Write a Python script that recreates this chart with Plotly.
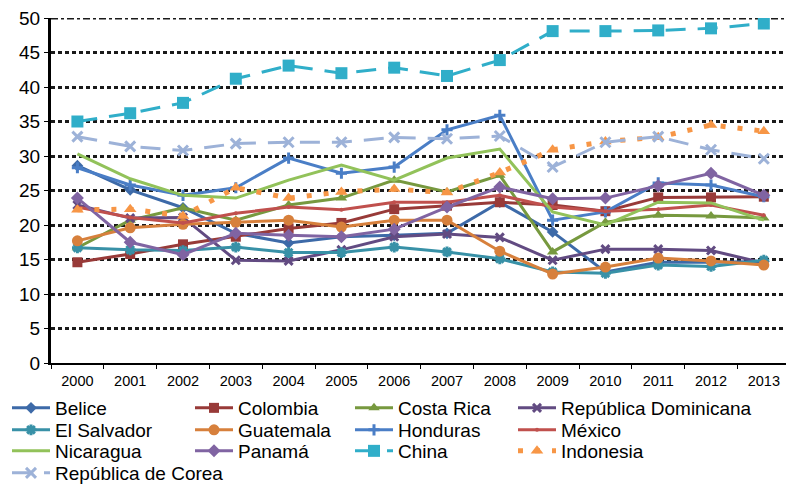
import plotly.graph_objects as go

years = [str(y) for y in range(2000, 2014)]

belice = [28.6, 25.1, 22.5, 18.8, 17.4, 18.3, 18.5, 18.8, 23.3, 19.0, 13.2, 14.6, 14.6, 14.7]
colombia = [14.6, 15.8, 17.2, 18.3, 19.5, 20.3, 22.3, 22.8, 23.3, 22.9, 22.0, 24.0, 24.0, 24.1]
costa_rica = [16.7, 20.7, 22.5, 20.7, 22.9, 23.9, 26.5, 24.8, 27.2, 16.1, 20.4, 21.4, 21.3, 21.0]
rep_dominicana = [22.9, 21.0, 21.1, 14.9, 14.8, 16.4, 18.3, 18.7, 18.2, 14.9, 16.5, 16.5, 16.3, 14.5]
el_salvador = [16.7, 16.4, 16.3, 16.8, 16.0, 16.0, 16.8, 16.1, 15.1, 13.2, 13.0, 14.2, 14.0, 14.9]
guatemala = [17.7, 19.6, 20.1, 20.4, 20.7, 19.7, 20.7, 20.7, 16.2, 12.9, 13.9, 15.2, 14.8, 14.2]
honduras = [28.3, 25.8, 24.3, 25.4, 29.7, 27.5, 28.4, 33.8, 35.9, 20.7, 21.9, 26.1, 25.8, 24.1]
mexico = [22.6, 21.1, 20.3, 21.7, 22.6, 22.2, 23.3, 23.3, 24.3, 22.6, 22.0, 22.3, 22.9, 21.4]
nicaragua = [30.3, 26.7, 24.3, 23.9, 26.5, 28.7, 26.5, 29.7, 31.0, 21.9, 20.0, 23.3, 23.2, 20.7]
panama = [23.9, 17.5, 15.7, 18.8, 18.5, 18.3, 19.4, 22.6, 25.5, 23.8, 23.9, 25.7, 27.5, 24.3]
china = [35.0, 36.2, 37.7, 41.2, 43.1, 42.0, 42.8, 41.6, 43.9, 48.1, 48.1, 48.2, 48.5, 49.2]
indonesia = [22.2, 22.3, 21.3, 25.4, 23.9, 24.8, 25.2, 24.7, 27.6, 30.9, 32.1, 32.7, 34.5, 33.6]
rep_corea = [32.8, 31.4, 30.8, 31.8, 32.0, 32.0, 32.7, 32.5, 32.9, 28.4, 32.0, 32.8, 30.9, 29.6]

# name, values, color, marker symbol, marker size, dash
series = [
    ("Belice", belice, "#3D6AA8", "diamond", 9, "solid"),
    ("Colombia", colombia, "#983A38", "square", 10, "solid"),
    ("Costa Rica", costa_rica, "#77993F", "triangle-up", 10, "solid"),
    ("República Dominicana", rep_dominicana, "#624B82", "x-thin", 8, "solid"),
    ("El Salvador", el_salvador, "#3891A7", "asterisk", 9, "solid"),
    ("Guatemala", guatemala, "#D7803C", "circle", 11, "solid"),
    ("Honduras", honduras, "#4A7EC6", "cross-thin", 8, "solid"),
    ("México", mexico, "#C0504D", "circle", 4, "solid"),
    ("Nicaragua", nicaragua, "#92C25A", None, 0, "solid"),
    ("Panamá", panama, "#8064A2", "diamond", 10, "solid"),
    ("China", china, "#30AEC9", "square", 12, "20px,12px"),
    ("Indonesia", indonesia, "#F79646", "triangle-up", 11, "5px,12px"),
    ("República de Corea", rep_corea, "#9DB2D8", "x-thin", 10, "20px,12px"),
]

# legend slots (text left x, row centre y) in pixels, Excel-like 4 column layout
leg_pos = [
    (55, 408), (238, 408), (398, 408), (561, 408),
    (55, 430), (238, 430), (398, 430), (561, 430),
    (55, 451), (238, 451), (398, 451), (561, 451),
    (55, 473),
]

W, H = 786, 486
fig = go.Figure()

for i, (name, vals, col, sym, size, dash) in enumerate(series):
    lg = "legend" if i == 0 else f"legend{i + 1}"
    lw = 5 if name == "Indonesia" else 3
    if sym is None:
        mode = "lines"
        marker = None
    else:
        mode = "lines+markers"
        marker = dict(symbol=sym, size=size, color=col)
        if "thin" in sym or sym == "asterisk":
            marker["line"] = dict(color=col, width=3)
    fig.add_trace(go.Scatter(
        x=years, y=vals, name=name, mode=mode, marker=marker,
        line=dict(color=col, width=lw, dash=dash), legend=lg,
    ))

layout_legends = {}
for i, (tx, ty) in enumerate(leg_pos):
    key = "legend" if i == 0 else f"legend{i + 1}"
    layout_legends[key] = dict(
        xref="container", yref="container",
        x=(tx - 48) / W, y=1 - ty / H,
        xanchor="left", yanchor="middle",
        orientation="v", itemwidth=38,
        font=dict(family="Liberation Sans, Arial", size=19, color="black"),
        bgcolor="rgba(0,0,0,0)", borderwidth=0,
    )

fig.update_layout(
    width=W, height=H,
    margin=dict(l=51, r=0, t=18, b=123, autoexpand=False),
    plot_bgcolor="white", paper_bgcolor="white",
    font=dict(family="Liberation Sans, Arial", color="black"),
    showlegend=True,
    **layout_legends,
)

fig.update_xaxes(
    type="category", range=[-0.5, 13.42],
    showgrid=False, zeroline=False,
    showline=True, linecolor="black", linewidth=2,
    ticks="outside", tickson="boundaries", ticklen=4, tickcolor="black",
    tickfont=dict(size=14.5), ticklabelstandoff=4, tickangle=0,
)
fig.update_yaxes(
    range=[0, 50], tickvals=list(range(0, 51, 5)),
    showgrid=True, gridcolor="#1a1a1a", gridwidth=3, griddash="4px,3px",
    zeroline=False,
    showline=True, linecolor="black", linewidth=3,
    ticks="outside", ticklen=4, tickcolor="black",
    tickfont=dict(size=19),
)

# top border of the plot area is dash-dot instead of dotted
fig.add_shape(type="line", xref="paper", yref="y", x0=0, x1=1, y0=50, y1=50,
              line=dict(color="white", width=4), layer="between")
fig.add_shape(type="line", xref="paper", yref="y", x0=0, x1=1, y0=50, y1=50,
              line=dict(color="#1a1a1a", width=3, dash="7px,3px,3px,3px"), layer="between")

# drop the browser's default 8px body margin so the figure sits at the page corner
fig.write_html("out.html", config={"displayModeBar": False},
               post_script="document.body.style.margin='0';")
